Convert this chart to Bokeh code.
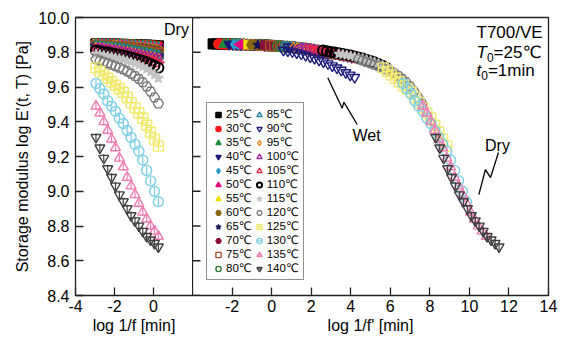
import math
import numpy as np
from bokeh.plotting import figure
from bokeh.layouts import row
from bokeh.models import (Label, Legend, LegendItem, FixedTicker, PrintfTickFormatter,
                          Range1d, LinearAxis)
from bokeh.embed import file_html
from bokeh.resources import INLINE

FONT = "Liberation Sans"
LEG_FONT = "Liberation Sans, DejaVu Sans"

# ---------------- data ----------------
temps = [25, 30, 35, 40, 45, 50, 55, 60, 65, 70, 75, 80,
         85, 90, 95, 100, 105, 110, 115, 120, 125, 130, 135, 140]

# measured log 1/f [min] (same for every temperature)
log_inv_f = [-2.95, -2.75, -2.55, -2.35, -2.15, -1.95, -1.75, -1.55, -1.35,
             -1.15, -0.95, -0.75, -0.55, -0.35, -0.15, 0.05, 0.25]

# time-temperature shift factors log a_T (T0 = 25 C)
log_aT = [0.0, 0.28, 0.55, 0.8, 1.05, 1.35, 1.7, 1.95, 2.25, 2.6, 2.9, 3.25,
          3.55, 3.8, 4.05, 4.35, 4.85, 5.55, 6.35, 7.35, 8.6, 9.6, 10.6, 11.25]

e25 = [9.848, 9.848, 9.847, 9.847, 9.846, 9.846, 9.845, 9.845, 9.844, 9.844, 9.843, 9.842, 9.841, 9.840, 9.839, 9.838, 9.836]
e30 = [9.848, 9.847, 9.847, 9.846, 9.846, 9.845, 9.845, 9.844, 9.844, 9.843, 9.842, 9.841, 9.840, 9.839, 9.837, 9.836, 9.834]
e35 = [9.847, 9.847, 9.846, 9.846, 9.845, 9.845, 9.844, 9.843, 9.843, 9.842, 9.841, 9.840, 9.838, 9.837, 9.835, 9.833, 9.831]
e40 = [9.846, 9.846, 9.845, 9.845, 9.844, 9.843, 9.843, 9.842, 9.841, 9.840, 9.839, 9.837, 9.836, 9.834, 9.832, 9.830, 9.828]
e45 = [9.846, 9.845, 9.845, 9.844, 9.843, 9.843, 9.842, 9.841, 9.840, 9.838, 9.837, 9.835, 9.834, 9.832, 9.830, 9.828, 9.825]
e50 = [9.845, 9.844, 9.844, 9.843, 9.842, 9.841, 9.840, 9.839, 9.837, 9.836, 9.834, 9.832, 9.830, 9.828, 9.826, 9.824, 9.821]
e55 = [9.844, 9.843, 9.842, 9.841, 9.840, 9.839, 9.838, 9.836, 9.835, 9.833, 9.831, 9.829, 9.827, 9.825, 9.822, 9.819, 9.816]
e60 = [9.843, 9.842, 9.841, 9.840, 9.839, 9.837, 9.836, 9.834, 9.833, 9.831, 9.829, 9.827, 9.824, 9.822, 9.819, 9.815, 9.811]
e65 = [9.842, 9.841, 9.840, 9.838, 9.837, 9.835, 9.834, 9.832, 9.830, 9.828, 9.826, 9.823, 9.820, 9.817, 9.813, 9.809, 9.805]
e70 = [9.840, 9.839, 9.837, 9.836, 9.834, 9.832, 9.830, 9.828, 9.826, 9.824, 9.821, 9.818, 9.814, 9.810, 9.806, 9.802, 9.798]
e75 = [9.838, 9.837, 9.835, 9.834, 9.832, 9.830, 9.828, 9.825, 9.823, 9.820, 9.816, 9.812, 9.808, 9.804, 9.800, 9.796, 9.791]
e80 = [9.836, 9.834, 9.832, 9.830, 9.828, 9.826, 9.823, 9.820, 9.817, 9.813, 9.809, 9.805, 9.801, 9.797, 9.792, 9.788, 9.783]
e85 = [9.833, 9.831, 9.829, 9.827, 9.824, 9.822, 9.819, 9.815, 9.811, 9.807, 9.803, 9.799, 9.795, 9.790, 9.786, 9.781, 9.777]
e90 = [9.831, 9.829, 9.826, 9.824, 9.821, 9.818, 9.815, 9.811, 9.807, 9.803, 9.799, 9.795, 9.790, 9.786, 9.781, 9.776, 9.771]
e95 = [9.828, 9.826, 9.823, 9.821, 9.818, 9.814, 9.811, 9.807, 9.803, 9.799, 9.794, 9.790, 9.785, 9.781, 9.776, 9.770, 9.765]
e100 = [9.824, 9.822, 9.819, 9.816, 9.813, 9.809, 9.805, 9.801, 9.797, 9.793, 9.788, 9.783, 9.778, 9.774, 9.769, 9.763, 9.757]
e105 = [9.817, 9.814, 9.810, 9.807, 9.803, 9.799, 9.795, 9.791, 9.786, 9.781, 9.777, 9.772, 9.767, 9.762, 9.756, 9.749, 9.742]
e110 = [9.810, 9.806, 9.802, 9.798, 9.794, 9.790, 9.786, 9.781, 9.776, 9.770, 9.764, 9.757, 9.750, 9.742, 9.733, 9.723, 9.711]
e115 = [9.790, 9.787, 9.783, 9.779, 9.774, 9.769, 9.764, 9.758, 9.751, 9.744, 9.736, 9.727, 9.716, 9.703, 9.688, 9.670, 9.650]
e120 = [9.760, 9.752, 9.744, 9.736, 9.728, 9.720, 9.711, 9.701, 9.690, 9.677, 9.663, 9.646, 9.627, 9.603, 9.574, 9.540, 9.505]
e125 = [9.71, 9.69, 9.67, 9.65, 9.63, 9.61, 9.59, 9.57, 9.54, 9.51, 9.48, 9.45, 9.42, 9.38, 9.34, 9.30, 9.26]
e130 = [9.62, 9.59, 9.56, 9.52, 9.49, 9.46, 9.42, 9.39, 9.35, 9.31, 9.27, 9.23, 9.18, 9.12, 9.06, 9.00, 8.94]
e135 = [9.49, 9.45, 9.40, 9.35, 9.30, 9.25, 9.19, 9.14, 9.08, 9.03, 8.98, 8.93, 8.88, 8.84, 8.80, 8.77, 8.74]
e140 = [9.31, 9.25, 9.19, 9.13, 9.08, 9.03, 8.98, 8.94, 8.90, 8.86, 8.83, 8.80, 8.77, 8.74, 8.72, 8.70, 8.68]

storage = [e25, e30, e35, e40, e45, e50, e55, e60, e65, e70, e75, e80,
           e85, e90, e95, e100, e105, e110, e115, e120, e125, e130, e135, e140]

# wet specimen, reduced time
wet_x = [0.60, 0.82, 1.05, 1.27, 1.50, 1.72, 1.95, 2.17, 2.40, 2.62, 2.85, 3.07, 3.30, 3.52, 3.75, 3.97, 4.20]
wet_y = [9.812, 9.808, 9.803, 9.797, 9.790, 9.782, 9.774, 9.765, 9.755, 9.745, 9.734, 9.722, 9.710, 9.697, 9.683, 9.669, 9.655]

y_ticks = [8.4, 8.6, 8.8, 9.0, 9.2, 9.4, 9.6, 9.8, 10.0]
x_ticks_left = [-4, -2, 0]
x_ticks_right = [-2, 0, 2, 4, 6, 8, 10, 12, 14]

# ---------------- styles ----------------
L, R = math.pi / 2, -math.pi / 2
# (marker, angle, color, filled, bar)
styles = [
    ("square", 0, "#000000", True, False),
    ("circle", 0, "#ff1a1a", True, False),
    ("triangle", 0, "#1e8c3a", True, False),
    ("inverted_triangle", 0, "#1c1a78", True, False),
    ("diamond", 0, "#2a9cc8", True, False),
    ("triangle", L, "#e6007e", True, False),
    ("triangle", R, "#f0e000", True, False),
    ("hex", 0, "#8b6914", True, False),
    ("star", 0, "#14145a", True, False),
    ("hex", math.pi / 2, "#8a1038", True, False),
    ("square", 0, "#a0522d", False, False),
    ("circle", 0, "#2e7d32", False, False),
    ("triangle", 0, "#2a7fa8", False, False),
    ("inverted_triangle", 0, "#1c1a78", False, False),
    ("diamond", 0, "#f08a24", False, False),
    ("triangle", L, "#a020a0", False, False),
    ("triangle", R, "#e8254a", False, False),
    ("circle", 0, "#000000", False, False),
    ("star", 0, "#c4c4c4", True, False),
    ("hex", 0, "#7a7a7a", False, False),
    ("square_cross", 0, "#f2ea70", False, False),
    ("circle", 0, "#7ccfe6", False, True),
    ("triangle", 0, "#f07cb4", False, True),
    ("inverted_triangle", 0, "#404040", False, True),
]

# ---------------- figures ----------------
H = 340
TOP, BOT = 17, 45
p1 = figure(width=192, height=H, x_range=Range1d(-4, 2), y_range=Range1d(8.4, 10.0),
            output_backend="svg", toolbar_location=None,
            min_border_left=75, min_border_right=0, min_border_top=TOP, min_border_bottom=BOT)
p2 = figure(width=370, height=H, x_range=Range1d(-4, 14), y_range=Range1d(8.4, 10.0),
            output_backend="svg", toolbar_location=None, y_axis_location=None,
            min_border_left=0, min_border_right=14, min_border_top=TOP, min_border_bottom=BOT)

LINE = "#222222"
for p in (p1, p2):
    p.grid.visible = False
    p.background_fill_color = "white"
    p.border_fill_color = "white"
    for ax in p.axis:
        ax.major_tick_in = 8
        ax.major_tick_out = 0
        ax.minor_tick_line_color = None
        ax.major_tick_line_color = LINE
        ax.major_tick_line_width = 1.3
        ax.major_label_text_font = FONT
        ax.major_label_text_font_size = "16px"
        ax.major_label_text_color = "black"
        ax.axis_line_color = LINE
        ax.axis_line_width = 1.3
        ax.axis_label_text_font = FONT
        ax.axis_label_text_font_size = "16px"
        ax.axis_label_text_font_style = "normal"
        ax.axis_label_text_color = "black"

p1.outline_line_color = None
p2.outline_line_color = LINE
p2.outline_line_width = 1.3

p1.yaxis.ticker = FixedTicker(ticks=y_ticks)
p1.yaxis.formatter = PrintfTickFormatter(format="%.1f")
p1.yaxis.major_label_standoff = 6
p1.yaxis.axis_label = "Storage modulus log E'(t, T) [Pa]"
p1.yaxis.axis_label_standoff = 4
p1.xaxis.ticker = FixedTicker(ticks=x_ticks_left)
p1.xaxis.major_label_overrides = {t: str(t) for t in x_ticks_left}
p1.xaxis.major_label_standoff = 4
p1.xaxis.axis_label = "log 1/f [min]"
p1.xaxis.axis_label_standoff = 2
top_ax = LinearAxis(ticker=FixedTicker(ticks=[]), axis_line_color=LINE, axis_line_width=1.3,
                    major_tick_line_color=None, minor_tick_line_color=None)
p1.add_layout(top_ax, "above")

p2.xaxis.ticker = FixedTicker(ticks=x_ticks_right)
p2.xaxis.major_label_overrides = {t: str(t) for t in x_ticks_right}
p2.xaxis.major_label_standoff = 4
p2.xaxis.axis_line_color = None
p2.xaxis.axis_label = "log 1/f' [min]"
p2.xaxis.axis_label_standoff = 2

# inward y ticks on the left edge of the right panel (same tick values)
tick_len = 8 * 18 / 356
p2.segment(x0=[-4] * len(y_ticks), y0=y_ticks, x1=[-4 + tick_len] * len(y_ticks), y1=y_ticks,
           line_color=LINE, line_width=1.3)

# ---------------- marks ----------------
SIZE = 10


def draw(p, xs, ys, st):
    marker, ang, col, filled, bar = st
    lw = 2.0 if (marker == "circle" and col == "#000000" and not filled) else 1.4
    rs = [p.scatter(xs, ys, marker=marker, angle=ang, size=SIZE,
                    line_color=col, line_width=lw,
                    fill_color=col if filled else None)]
    if bar:
        rs.append(p.scatter(xs, ys, marker="dash", angle=math.pi / 2, size=SIZE * 0.8,
                            line_color=col, line_width=1.2))
    return rs


legend_items = []
for i, t in enumerate(temps):
    draw(p1, log_inv_f, storage[i], styles[i])
    shifted = np.array(log_inv_f) + log_aT[i]
    rs = draw(p2, shifted, storage[i], styles[i])
    legend_items.append(LegendItem(label=f"{t}\u2103", renderers=rs))

draw(p2, wet_x, wet_y, styles[13])

legend = Legend(items=legend_items, location=(14, 15), ncols=2, orientation="vertical",
                label_text_font=LEG_FONT, label_text_font_size="11.5px", label_text_color="black",
                glyph_width=14, glyph_height=13, label_height=12, label_standoff=1,
                spacing=0, padding=4, margin=0,
                border_line_color=LINE, border_line_width=1.3,
                background_fill_color="white", background_fill_alpha=1.0)
p2.add_layout(legend)

# ---------------- annotations ----------------
def p1x(px):
    return -4 + (px - 75) * 6 / 117


def p2x(px):
    return -4 + (px - 192) * 18 / 356


def py(pyv):
    return 10 - (pyv - 17) * 1.6 / 278


EM = {'T': .611, 't': .278, '0': .556}


def text_w(s, size):
    return sum(EM.get(c, .6) for c in s) * size


def put(p, xmap, txt, px, pyc, size, style="normal", align="left", font=FONT):
    p.add_layout(Label(x=xmap(px), y=py(pyc), text=txt, text_align=align, text_baseline="middle",
                       text_font=font, text_font_size=f"{size}px", text_font_style=style,
                       text_color="black"))


put(p1, p1x, "Dry", 176, 29, 16, align="center")
put(p2, p2x, "T700/VE", 476, 32, 17)
put(p2, p2x, "T", 476, 52, 17, "italic")
put(p2, p2x, "0", 476 + text_w("T", 17), 57, 12)
put(p2, p2x, "=25\u2103", 476 + text_w("T", 17) + text_w("0", 12), 52, 17, font=LEG_FONT)
put(p2, p2x, "t", 476, 70, 17, "italic")
put(p2, p2x, "0", 476 + text_w("t", 17), 75, 12)
put(p2, p2x, "=1min", 476 + text_w("t", 17) + text_w("0", 12), 70, 17)
put(p2, p2x, "Wet", 366, 135, 16, align="center")
put(p2, p2x, "Dry", 497, 145, 16, align="center")

# zig-zag pointers (data coordinates)
wet_arrow_x = [2.84, 3.57, 3.65, 4.33]
wet_arrow_y = [9.653, 9.478, 9.513, 9.384]
dry_arrow_x = [10.48, 10.81, 11.07, 11.47]
dry_arrow_y = [8.981, 9.125, 9.079, 9.223]
p2.line(wet_arrow_x, wet_arrow_y, line_color="black", line_width=1.3)
p2.line(dry_arrow_x, dry_arrow_y, line_color="black", line_width=1.3)

layout = row(p1, p2)
open("out.html", "w").write(file_html(layout, INLINE))
